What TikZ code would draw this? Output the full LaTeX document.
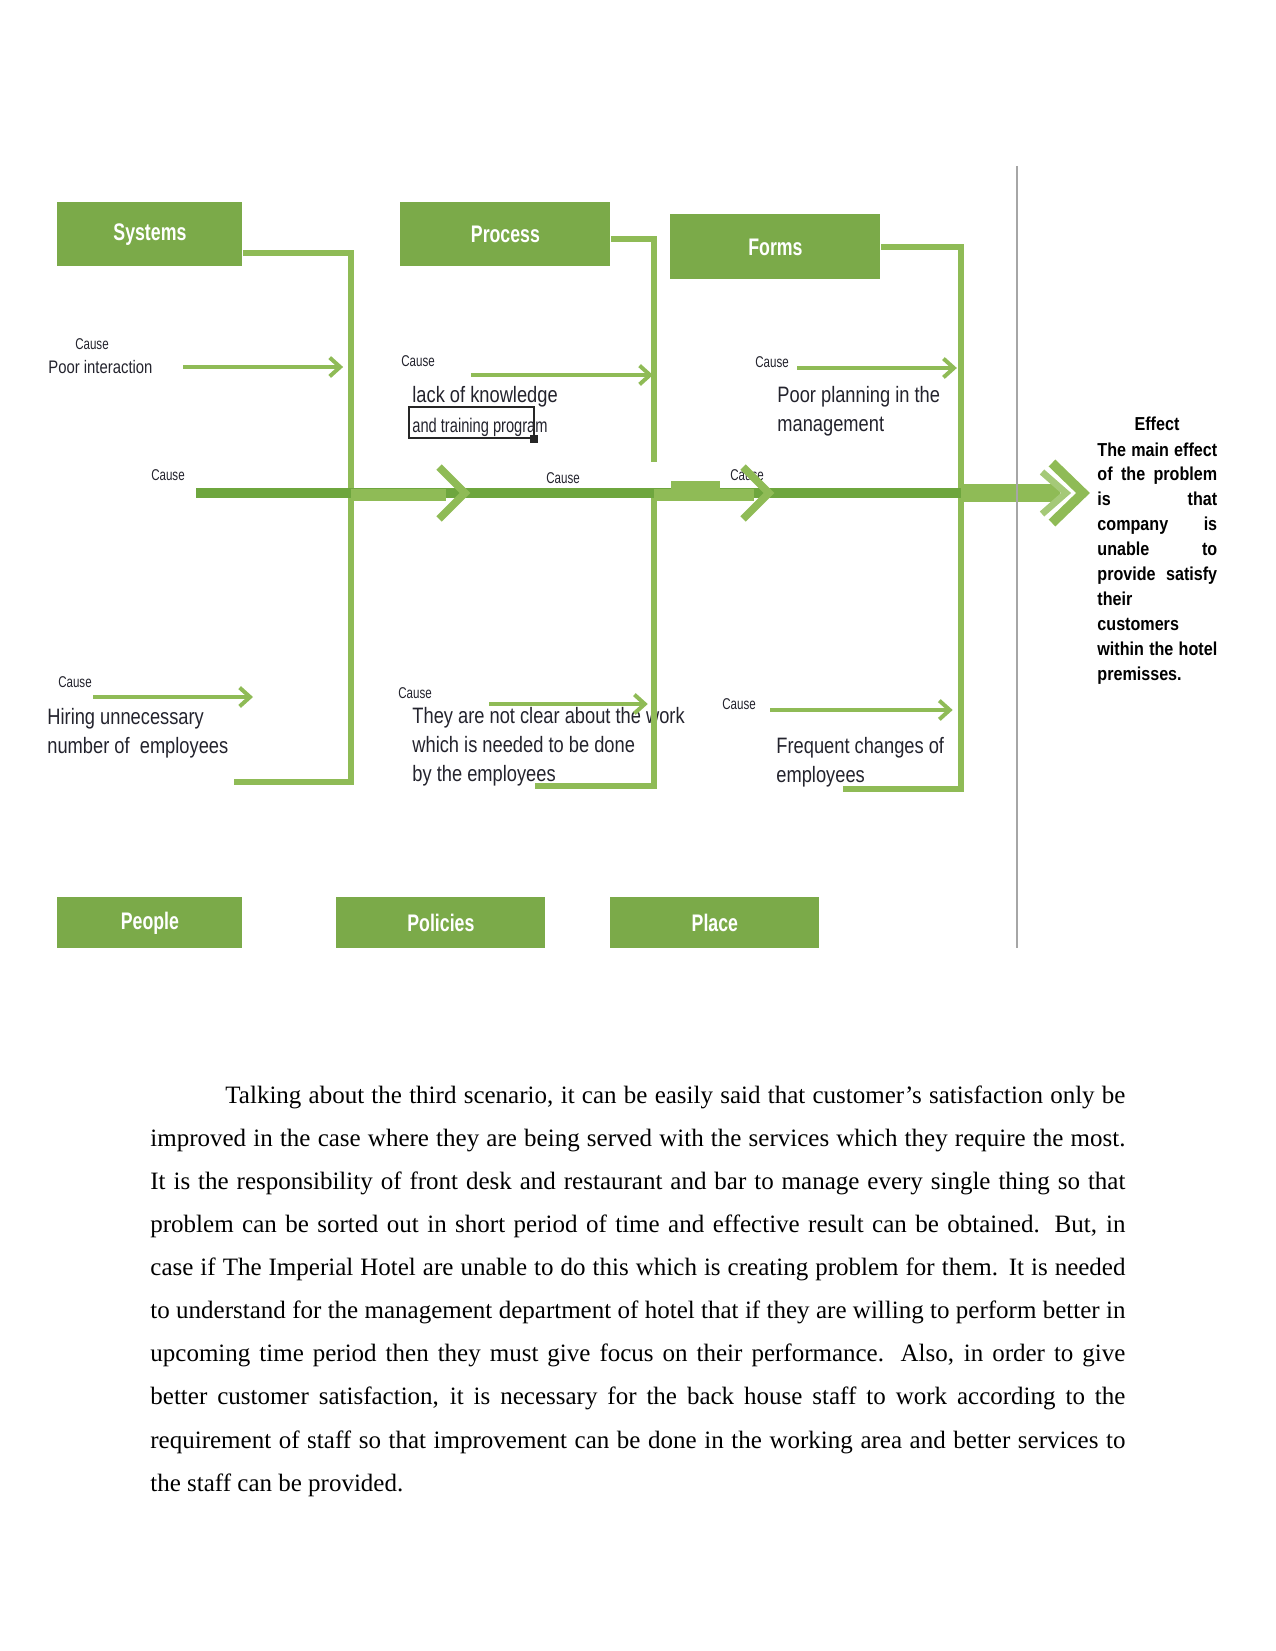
\documentclass[tikz,border=0pt]{standalone}
\usepackage{fontspec}
\setmainfont{Liberation Serif}
\newfontfamily\narrowfont[FakeStretch=0.82]{Liberation Sans}
\newfontfamily\condfont[FakeStretch=0.74]{Liberation Sans}
\newfontfamily\effectfont[FakeStretch=0.86]{Liberation Sans}
\usetikzlibrary{arrows.meta,calc}

\definecolor{boxgreen}{RGB}{123,170,73}
\definecolor{branchgreen}{RGB}{143,187,86}
\definecolor{spinegreen}{RGB}{110,166,62}
\definecolor{causegray}{RGB}{35,35,45}

\tikzset{
  hdr/.style={fill=boxgreen, text=white, inner sep=0pt, anchor=north west,
    font=\condfont\bfseries\fontsize{11.5}{13}\selectfont},
  branch/.style={draw=branchgreen, line width=2.9pt},
  spine/.style={draw=spinegreen, line width=4.8pt},
  chev/.style={draw=branchgreen, line width=3.6pt},
  cause/.style={-{Straight Barb[length=5pt,width=9pt]}, draw=branchgreen, line width=1.9pt},
  causelbl/.style={font=\condfont\fontsize{7.5}{9}\selectfont, text=causegray, inner sep=0pt},
  causetxt/.style={font=\narrowfont\fontsize{10.7}{13.7}\selectfont, text=causegray,
    inner sep=0pt, anchor=base west, align=left},
}

\begin{document}
\begin{tikzpicture}[x=0.48pt, y=-0.48pt]
\useasboundingbox (0,0) rectangle (1275,1651);

\node[hdr, minimum width=88.8pt, minimum height=30.7pt] (systems) at (57,202) {Systems};
\node[hdr, minimum width=100.8pt, minimum height=30.7pt] (process) at (400,202) {Process};
\node[hdr, minimum width=100.8pt, minimum height=31.2pt] (forms) at (670,214) {Forms};
\node[hdr, minimum width=88.8pt, minimum height=24.5pt] (people) at (57,897) {People};
\node[hdr, minimum width=100.3pt, minimum height=24.5pt] (policies) at (336,897) {Policies};
\node[hdr, minimum width=100.3pt, minimum height=24.5pt] (place) at (610,897) {Place};

% multi-line labels sit on the baseline of their last line
\node[causelbl] (c1) at (92,344) {Cause};
\node[causetxt, font=\narrowfont\fontsize{8.7}{10}\selectfont] (poorint) at (48,373) {Poor interaction};
\node[causelbl] (c2) at (418,361) {Cause};
\node[causetxt] (lack) at (412,402) {lack of knowledge};
\node[causetxt, font=\condfont\fontsize{9.5}{11}\selectfont] (training) at (412,432) {and training program};
\draw[line width=1.3pt, black!85] (409,407) rectangle (534,438);
\fill[black!85] (530,435) rectangle (538,443);
\node[causelbl] (c3) at (168,475) {Cause};
\node[causelbl] (c4) at (563,478) {Cause};
\node[causelbl] (c5) at (747,475) {Cause};
\node[causelbl] (c6) at (772,362) {Cause};
\node[causetxt] (plan) at (777,431) {Poor planning in the\\management};
\node[causelbl] (c7) at (75,682) {Cause};
\node[causetxt] (hiring) at (47,753) {Hiring unnecessary\\number of\ \ employees};
\node[causelbl] (c8) at (415,693) {Cause};
\node[causetxt] (unclear) at (412,781) {They are not clear about the work\\which is needed to be done\\by the employees};
\node[causelbl] (c9) at (739,704) {Cause};
\node[causetxt] (freq) at (776,782) {Frequent changes of\\employees};

\coordinate (tail) at (196,493);
\coordinate (j1) at (351,493);
\coordinate (j2) at (654,493);
\coordinate (j3) at (961,493);
\coordinate (shaft) at (1060,493);
\coordinate (procend) at (654,462);
\coordinate (pplend) at (234,782);
\coordinate (polend) at (535,786);
\coordinate (plcend) at (843,789);

\draw[branch] ([yshift=-9pt]systems.east) -| (j1);
\draw[branch] ([yshift=-2pt]process.east) -| (procend);
\draw[branch] (forms.east) -| (j3);
\draw[branch] (pplend) -| (j1);
\draw[branch] (polend) -| (j2);
\draw[branch] (plcend) -| (j3);

\draw[spine] (tail) -- (shaft);
\draw[branchgreen, line width=5.5pt] ([yshift=-1pt]j1) -- ++(95,0);
\draw[branchgreen, line width=5.5pt] ([yshift=-1pt]j2) -- ++(100,0);
\draw[branchgreen, line width=8.2pt] (j3) -- (shaft);
\fill[branchgreen] (671,481) rectangle (720,490);
\foreach \t in {465,769}
  \draw[chev] (\t-26,467) -- (\t,493) -- (\t-26,519);
\draw[chev, line width=4.6pt] (1052,463) -- (1083,493) -- (1052,523);
\draw[chev, draw=branchgreen!80!white, line width=3.2pt] (1042,472) -- (1066,493) -- (1042,514);

\draw[gray!70, line width=0.6pt] (1017,166) -- (1017,948);

\coordinate (a1) at (183,367);
\coordinate (a2) at (471,375);
\coordinate (a3) at (797,368);
\coordinate (a4) at (93,697);
\coordinate (a4e) at (253,697);
\coordinate (a5) at (489,704);
\coordinate (a6) at (770,710);
\draw[cause, shorten >=3.8pt] (a1) -- (a1 -| j1);
\draw[cause, shorten >=0.5pt] (a2) -- (a2 -| j2);
\draw[cause, shorten >=2pt] (a3) -- (a3 -| j3);
\draw[cause] (a4) -- (a4e);
\draw[cause, shorten >=3pt] (a5) -- (a5 -| j2);
\draw[cause, shorten >=4pt] (a6) -- (a6 -| j3);

\node[font=\effectfont\bfseries\fontsize{9}{12}\selectfont, inner sep=0pt, anchor=base] (effhead) at (1157,430) {Effect};
\node[font=\effectfont\bfseries\fontsize{9}{11.95}\selectfont, inner sep=0pt, anchor=base west,
  text width=57.5pt, align=justify] (effbody) at (1097,456)
  {The main effect\linebreak of the problem\linebreak is that\linebreak company is\linebreak
   unable to\linebreak provide satisfy\linebreak their\linebreak customers\linebreak
   within the hotel\linebreak premisses.};

\node[font=\fontsize{12}{20.7}\selectfont, text width=468pt, align=justify, inner sep=0pt,
  anchor=base west] (para) at (150,1103)
  {\hspace*{36pt}Talking about the third scenario, it can be easily said that customer’s satisfaction only be\linebreak
   improved in the case where they are being served with the services which they require the most.\linebreak
   It is the responsibility of front desk and restaurant and bar to manage every single thing so that\linebreak
   problem can be sorted out in short period of time and effective result can be obtained. But, in\linebreak
   case if The Imperial Hotel are unable to do this which is creating problem for them. It is needed\linebreak
   to understand for the management department of hotel that if they are willing to perform better in\linebreak
   upcoming time period then they must give focus on their performance. Also, in order to give\linebreak
   better customer satisfaction, it is necessary for the back house staff to work according to the\linebreak
   requirement of staff so that improvement can be done in the working area and better services to\linebreak
   the staff can be provided.};
\end{tikzpicture}
\end{document}
